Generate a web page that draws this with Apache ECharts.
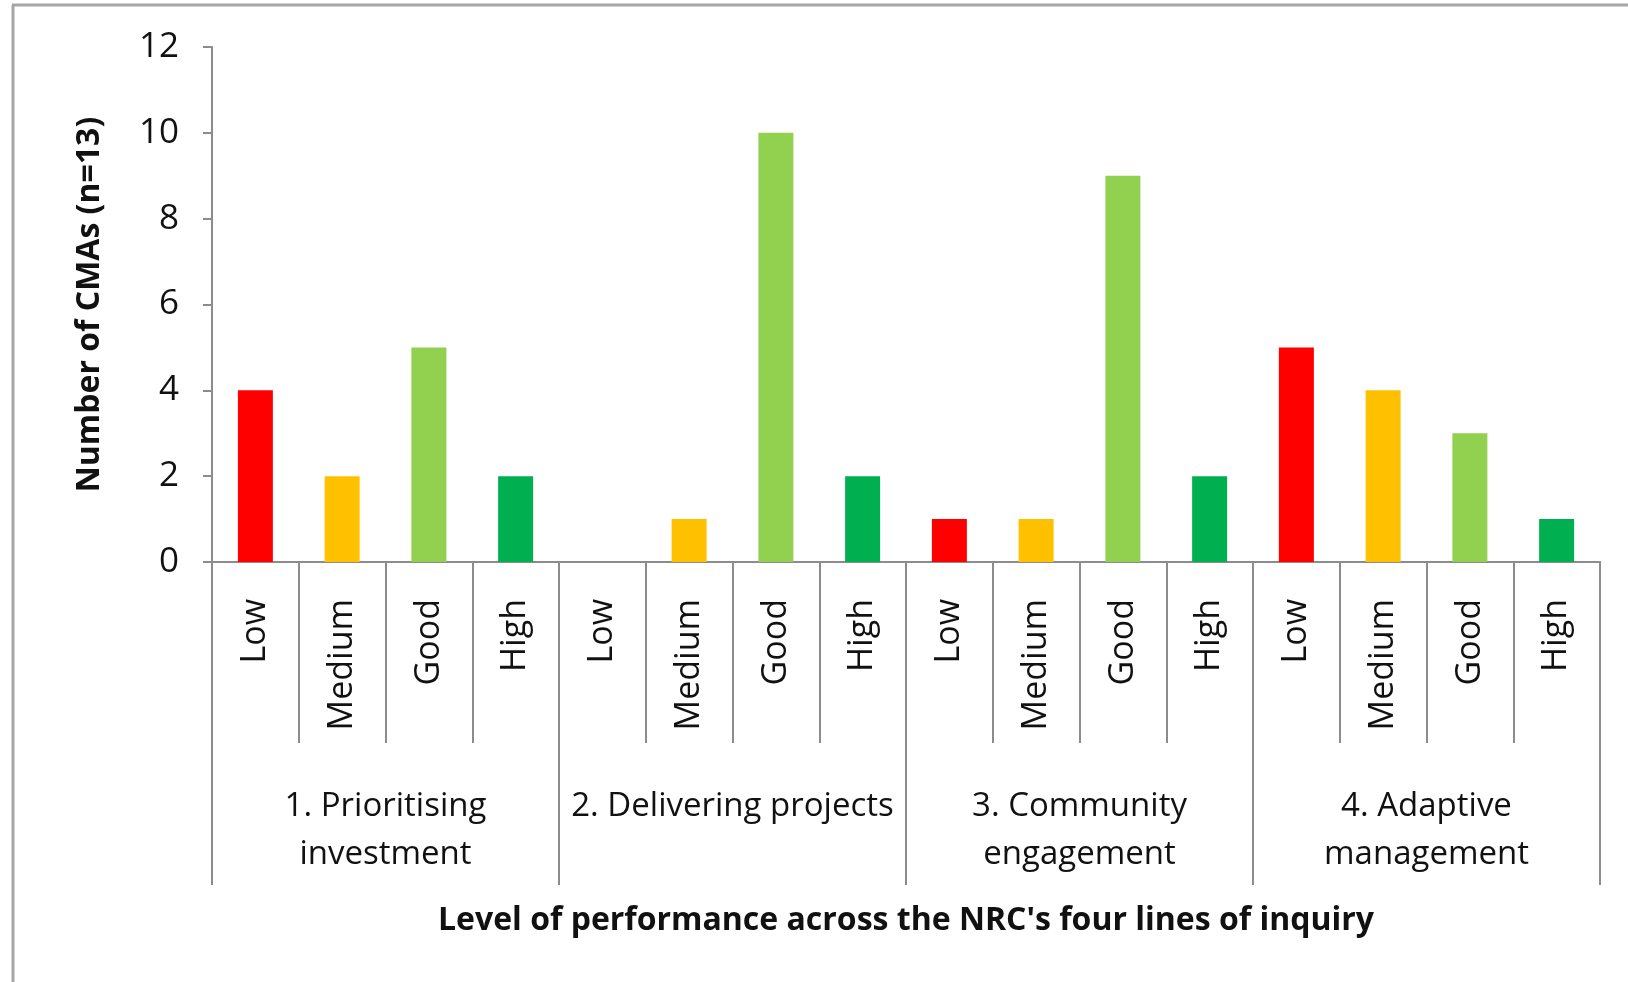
<!DOCTYPE html>
<html>
<head>
<meta charset="utf-8">
<script src="https://cdn.jsdelivr.net/npm/echarts@6/dist/echarts.min.js"></script>
<style>
html, body { margin: 0; padding: 0; background: #fff; }
#chart { width: 1628px; height: 982px; }
</style>
</head>
<body>
<div id="chart"></div>
<script>
var levels = ['Low', 'Medium', 'Good', 'High'];
var levelColors = ['#FF0000', '#FFC000', '#92D050', '#00B050'];
var groups = ['1. Prioritising\ninvestment', '2. Delivering projects', '3. Community\nengagement', '4. Adaptive\nmanagement'];
var prioritising = [4, 2, 5, 2];
var delivering = [0, 1, 10, 2];
var community = [1, 1, 9, 2];
var adaptive = [5, 4, 3, 1];
var yTicks = [0, 2, 4, 6, 8, 10, 12];

var groupValues = [prioritising, delivering, community, adaptive];
var categories = [];
var barData = [];
groupValues.forEach(function (vals) {
    vals.forEach(function (v, i) {
        categories.push(levels[i]);
        barData.push({ value: v, itemStyle: { color: levelColors[i] } });
    });
});

var axisGray = '#8c8c8c';
var font = 'Open Sans';

var chart = echarts.init(document.getElementById('chart'));
chart.setOption({
    animation: false,
    grid: { left: 212, right: 28, top: 47, bottom: 420, containLabel: false },
    graphic: [
        { type: 'line', shape: { x1: 13, y1: 5, x2: 13, y2: 982 }, style: { stroke: '#a6a6a6', lineWidth: 3 } },
        { type: 'line', shape: { x1: 12, y1: 5, x2: 1628, y2: 5 }, style: { stroke: '#a6a6a6', lineWidth: 3 } }
    ],
    xAxis: [{
        type: 'category',
        data: categories,
        position: 'bottom',
        axisLine: { show: true, lineStyle: { color: axisGray, width: 2 } },
        axisTick: { show: true, interval: 0, length: 181, lineStyle: { color: axisGray, width: 2 } },
        axisLabel: { rotate: 90, margin: 37, fontFamily: font, fontSize: 34, color: '#111', interval: 0 }
    }, {
        type: 'category',
        data: groups,
        position: 'bottom',
        name: "Level of performance across the NRC's four lines of inquiry",
        nameLocation: 'middle',
        nameGap: 343,
        nameTextStyle: { fontFamily: font, fontWeight: 'bold', fontSize: 32, color: '#111' },
        axisLine: { show: true, lineStyle: { color: axisGray, width: 2 } },
        axisTick: { show: true, interval: 0, length: 323, lineStyle: { color: axisGray, width: 2 } },
        axisLabel: { margin: 221, fontFamily: font, fontSize: 33, lineHeight: 48, color: '#111', interval: 0 }
    }],
    yAxis: {
        type: 'value',
        min: 0,
        max: 12,
        interval: 2,
        name: 'Number of CMAs (n=13)',
        nameLocation: 'middle',
        nameGap: 106,
        nameTextStyle: { fontFamily: font, fontWeight: 'bold', fontSize: 32, color: '#111' },
        axisLine: { show: true, lineStyle: { color: axisGray, width: 2 } },
        axisTick: { show: true, length: 9, lineStyle: { color: axisGray, width: 2 } },
        splitLine: { show: false },
        axisLabel: {
            margin: 33, fontFamily: font, fontSize: 35, color: '#111',
            formatter: function (v) { return yTicks.indexOf(v) >= 0 ? String(v) : ''; }
        }
    },
    series: [{
        type: 'bar',
        xAxisIndex: 0,
        barWidth: 35,
        data: barData
    }]
});
</script>
</body>
</html>
